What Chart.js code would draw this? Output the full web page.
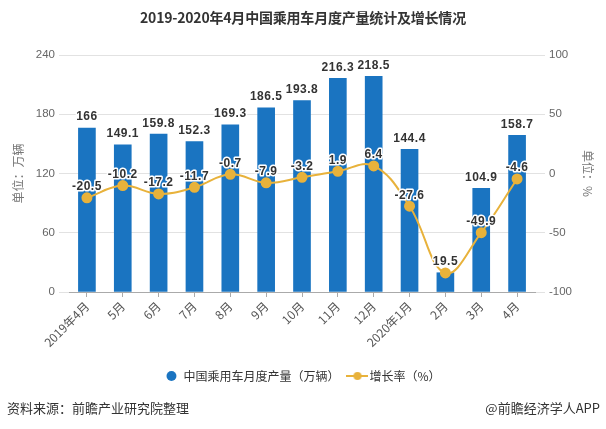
<!DOCTYPE html>
<html>
<head>
<meta charset="utf-8">
<script src="https://cdn.jsdelivr.net/npm/chart.js@4/dist/chart.umd.min.js"></script>
<style>
  html, body { margin: 0; padding: 0; background: #fff; }
  #wrap { position: relative; width: 606px; height: 429px; overflow: hidden;
          font-family: "Noto Sans CJK SC", "Noto Sans", sans-serif; }
  #title { position: absolute; left: 0; top: 7px; width: 606px; text-align: center;
           font-size: 14px; font-weight: bold; color: #333; letter-spacing: -0.2px; }
  #chart { position: absolute; left: 0; top: 0; }
  .foot { position: absolute; top: 398px; font-size: 13px; color: #333; }
  #src { left: 7px; }
  #app { right: 6px; }
</style>
</head>
<body>
<div id="wrap">
  <canvas id="chart" width="606" height="429"></canvas>
  <div id="title">2019-2020年4月中国乘用车月度产量统计及增长情况</div>
  <div class="foot" id="src">资料来源：前瞻产业研究院整理</div>
  <div class="foot" id="app">@前瞻经济学人APP</div>
</div>
<script>
'use strict';

// ── Data ──────────────────────────────────────────────────────
const months = ['2019年4月', '5月', '6月', '7月', '8月', '9月', '10月', '11月', '12月',
                '2020年1月', '2月', '3月', '4月'];
const output = [166, 149.1, 159.8, 152.3, 169.3, 186.5, 193.8, 216.3, 218.5, 144.4, 19.5, 104.9, 158.7];
const growth = [-20.5, -10.2, -17.2, -11.7, -0.7, -7.9, -3.2, 1.9, 6.4, -27.6, -83.9, -49.9, -4.6];
// growth labels that the picture leaves out (covered by the bar label)
const hiddenGrowthLabels = [10];
const leftTicks = [0, 60, 120, 180, 240];
const rightTicks = [-100, -50, 0, 50, 100];

// ── Style ─────────────────────────────────────────────────────
const BLUE = '#1a74c1';
const GOLD = '#e8b23b';
const FONT = '"Noto Sans CJK SC", "Noto Sans", sans-serif';
const LABEL_FONT = 'bold 12px "Liberation Sans", Arial, sans-serif';

// legend marker for the line: short line with a dot
function lineMarker() {
  const c = document.createElement('canvas');
  c.width = 22; c.height = 10;
  const g = c.getContext('2d');
  g.strokeStyle = GOLD; g.lineWidth = 2;
  g.beginPath(); g.moveTo(0, 5); g.lineTo(22, 5); g.stroke();
  g.fillStyle = GOLD;
  g.beginPath(); g.arc(11, 5, 4, 0, Math.PI * 2); g.fill();
  return c;
}

// ── Value labels ──────────────────────────────────────────────
function haloText(ctx, txt, x, y) {
  ctx.lineWidth = 3;
  ctx.lineJoin = 'round';
  ctx.strokeStyle = '#fff';
  ctx.strokeText(txt, x, y);
  ctx.fillStyle = '#333';
  ctx.fillText(txt, x, y);
}

const valueLabels = {
  id: 'valueLabels',
  afterDatasetsDraw(chart) {
    const ctx = chart.ctx;
    ctx.save();
    ctx.font = LABEL_FONT;
    ctx.letterSpacing = '0.5px';
    ctx.textAlign = 'center';
    ctx.textBaseline = 'middle';
    chart.getDatasetMeta(0).data.forEach((bar, i) => {
      haloText(ctx, String(output[i]), bar.x, bar.y - 11);
    });
    chart.getDatasetMeta(1).data.forEach((pt, i) => {
      if (hiddenGrowthLabels.includes(i)) return;
      haloText(ctx, String(growth[i]), pt.x, pt.y - 11);
    });
    ctx.restore();
  }
};

// ── Chart ─────────────────────────────────────────────────────
new Chart(document.getElementById('chart'), {
  type: 'bar',
  data: {
    labels: months,
    datasets: [
      {
        label: '中国乘用车月度产量（万辆）',
        data: output,
        backgroundColor: BLUE,
        barThickness: 17,
        yAxisID: 'y',
        order: 1
      },
      {
        type: 'line',
        label: '增长率（%）',
        data: growth,
        borderColor: GOLD,
        backgroundColor: GOLD,
        borderWidth: 2,
        pointRadius: 4.5,
        pointBackgroundColor: GOLD,
        pointBorderColor: GOLD,
        tension: 0.4,
        yAxisID: 'y1',
        order: 0
      }
    ]
  },
  options: {
    responsive: false,
    animation: false,
    layout: { padding: { top: 55, bottom: 37, left: 0, right: 0 } },
    plugins: {
      tooltip: { enabled: false },
      legend: {
        position: 'bottom',
        labels: {
          usePointStyle: true,
          boxHeight: 7,
          padding: 12,
          color: '#333',
          font: { family: FONT, size: 12 },
          generateLabels(chart) {
            const items = Chart.defaults.plugins.legend.labels.generateLabels(chart);
            items.sort((a, b) => a.datasetIndex - b.datasetIndex);
            items.forEach(it => {
              if (it.datasetIndex === 0) {
                it.pointStyle = 'circle';
                it.fillStyle = BLUE;
                it.strokeStyle = BLUE;
              } else {
                it.pointStyle = lineMarker();
              }
            });
            return items;
          }
        }
      }
    },
    scales: {
      x: {
        afterFit(s) { s.height = 66; },
        border: { color: '#aaa' },
        grid: { display: true, drawOnChartArea: false, offset: false, tickLength: 5, color: '#aaa' },
        ticks: {
          autoSkip: false, maxRotation: 45, minRotation: 45, padding: 2,
          color: '#555', font: { family: FONT, size: 12 }
        }
      },
      y: {
        position: 'left',
        min: 0, max: 240,
        afterFit(s) { s.width = 69; },
        afterBuildTicks(s) { s.ticks = leftTicks.map(v => ({ value: v })); },
        border: { display: false },
        grid: { color: '#e2e2e2', tickLength: 10 },
        ticks: { padding: 4, color: '#666', font: { family: '"Liberation Sans", sans-serif', size: 11.5 } },
        title: {
          display: true, text: '单位：万辆', color: '#777',
          font: { family: FONT, size: 12 }, padding: { top: 11, bottom: 0 }
        }
      },
      y1: {
        position: 'right',
        min: -100, max: 100,
        afterFit(s) { s.width = 71; },
        afterBuildTicks(s) { s.ticks = rightTicks.map(v => ({ value: v })); },
        border: { display: false },
        grid: { drawOnChartArea: false, color: '#e2e2e2', tickLength: 10 },
        ticks: { padding: 4, color: '#666', font: { family: '"Liberation Sans", sans-serif', size: 11.5 } },
        title: {
          display: true, text: '单位：%', color: '#777',
          font: { family: FONT, size: 12 }, padding: { top: 11, bottom: 0 }
        }
      }
    }
  },
  plugins: [valueLabels]
});
</script>
</body>
</html>
